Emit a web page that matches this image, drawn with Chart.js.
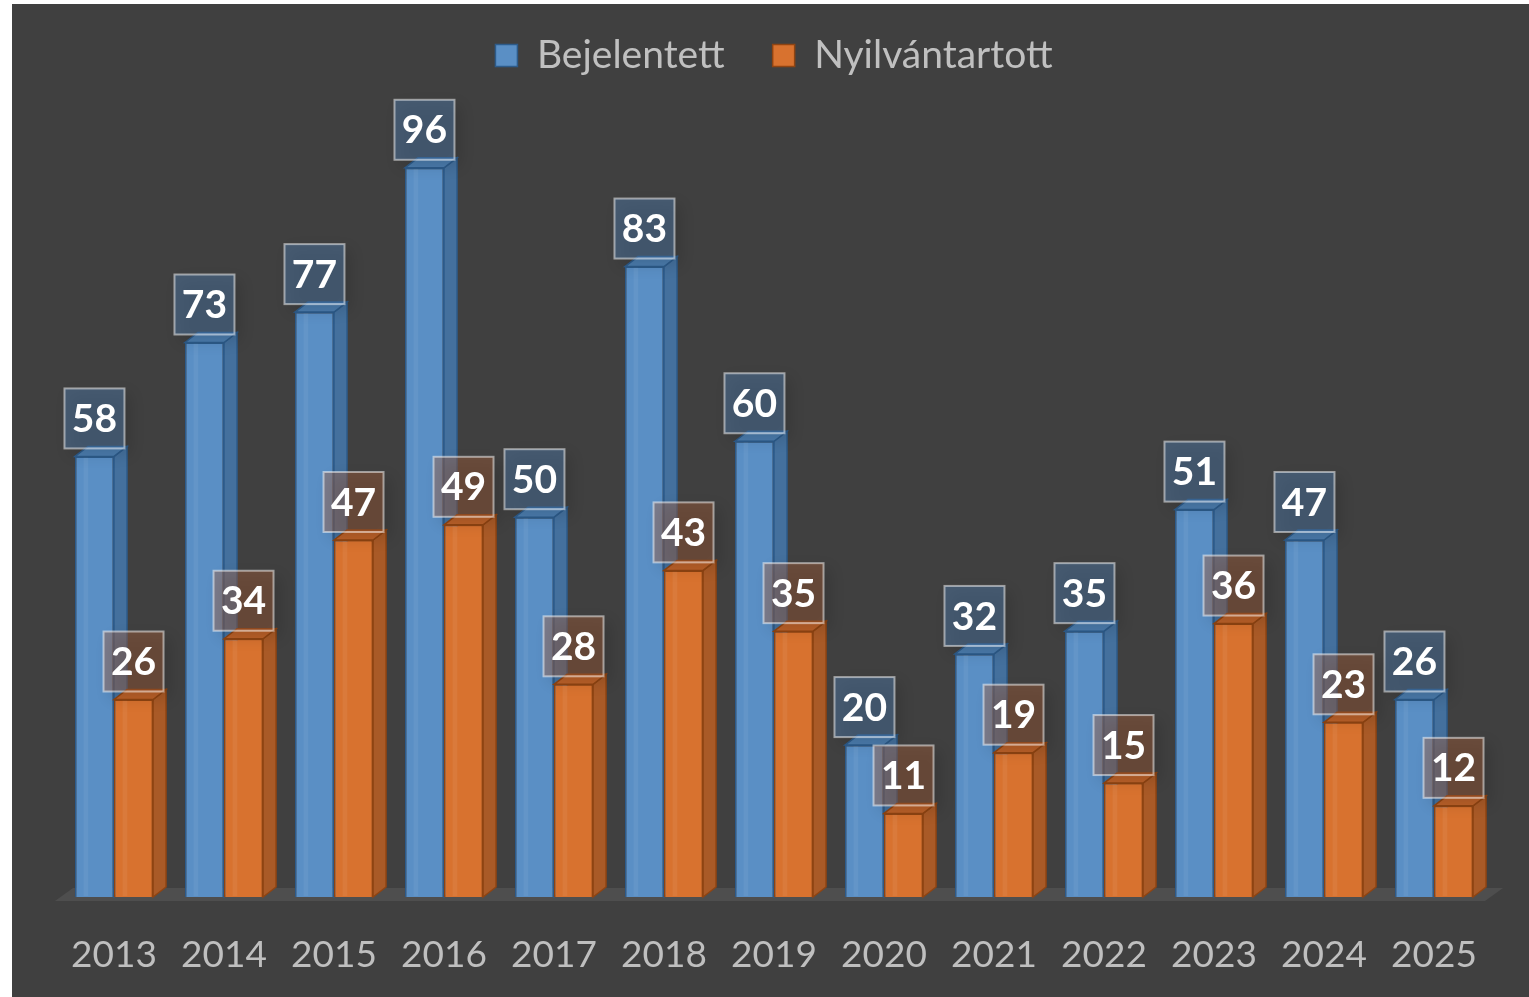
<!DOCTYPE html>
<html>
<head>
<meta charset="utf-8">
<script src="https://cdn.jsdelivr.net/npm/chart.js@4.4.1/dist/chart.umd.min.js"></script>
<style>
  html, body { margin: 0; padding: 0; background: #ffffff; }
  #wrap { position: absolute; left: 12px; top: 4px; width: 1517px; height: 993px; background: #404040; }
</style>
</head>
<body>
<div id="wrap"><canvas id="chart" width="1517" height="993"></canvas></div>
<script>
// Évek és a két adatsor
const evek = ['2013', '2014', '2015', '2016', '2017', '2018', '2019', '2020', '2021', '2022', '2023', '2024', '2025'];
const bejelentett = [58, 73, 77, 96, 50, 83, 60, 20, 32, 35, 51, 47, 26];
const nyilvantartott = [26, 34, 47, 49, 28, 43, 35, 11, 19, 15, 36, 23, 12];

const DX = 13, DY = 10; // 3D mélység

// színek: elülső, oldalsó, felső, keret, címke doboz
const szinek = [
    { front: '#5a8fc5', side: '#44709d', top: '#4b7cad', border: '#2d5b8a', box: 'rgba(79,129,184,0.4)' },
    { front: '#d8722f', side: '#a95a27', top: '#bb6129', border: '#8f4412', box: 'rgba(171,94,54,0.4)' }
];

function csik(ctx, bar) {
    const l = bar.x - bar.width / 2;
    ctx.fillStyle = 'rgba(255,255,255,0.06)';
    ctx.fillRect(l + bar.width * 0.22, bar.y + 1, bar.width * 0.12, bar.base - bar.y - 2);
}

function oldalak(ctx, bar, c) {
    const l = bar.x - bar.width / 2, r = bar.x + bar.width / 2;
    const t = bar.y, bo = bar.base;
    ctx.lineWidth = 1.5;
    ctx.strokeStyle = c.border;
    ctx.fillStyle = c.side;
    ctx.beginPath();
    ctx.moveTo(r, bo);
    ctx.lineTo(r + DX, bo - DY);
    ctx.lineTo(r + DX, t - DY);
    ctx.lineTo(r, t);
    ctx.closePath();
    ctx.fill();
    ctx.stroke();
    ctx.fillStyle = c.top;
    ctx.beginPath();
    ctx.moveTo(l, t);
    ctx.lineTo(l + DX, t - DY);
    ctx.lineTo(r + DX, t - DY);
    ctx.lineTo(r, t);
    ctx.closePath();
    ctx.fill();
    ctx.stroke();
}

// padló + 3D oldalak + értékcímkék
const harom_d = {
    id: 'haromD',
    beforeDatasetsDraw(chart) {
        const { ctx, chartArea } = chart;
        const b = chartArea.bottom;
        ctx.save();
        ctx.fillStyle = '#4e4e4e';
        ctx.beginPath();
        ctx.moveTo(chartArea.left - 4, b + 4);
        ctx.lineTo(chartArea.right - 4, b + 4);
        ctx.lineTo(chartArea.right + 14, b - 9);
        ctx.lineTo(chartArea.left + 14, b - 9);
        ctx.closePath();
        ctx.fill();
        ctx.restore();
    },
    afterDatasetsDraw(chart) {
        const { ctx } = chart;
        const kek = chart.getDatasetMeta(0).data;
        const narancs = chart.getDatasetMeta(1).data;
        ctx.save();
        kek.forEach(bar => { csik(ctx, bar); oldalak(ctx, bar, szinek[0]); });
        narancs.forEach(bar => { bar.draw(ctx); csik(ctx, bar); oldalak(ctx, bar, szinek[1]); });
        ctx.restore();

        ctx.save();
        [0, 1].forEach(di => {
            const meta = chart.getDatasetMeta(di);
            const vals = chart.data.datasets[di].data;
            meta.data.forEach((bar, i) => {
                const w = 60, h = 60;
                const x = bar.x - w / 2, y = bar.y - 8 - h;
                ctx.save();
                ctx.shadowColor = 'rgba(0,0,0,0.35)';
                ctx.shadowBlur = 14;
                ctx.shadowOffsetX = 6;
                ctx.shadowOffsetY = 6;
                ctx.fillStyle = szinek[di].box;
                ctx.fillRect(x, y, w, h);
                ctx.restore();
                ctx.strokeStyle = 'rgba(255,255,255,0.5)';
                ctx.lineWidth = 2;
                ctx.strokeRect(x, y, w, h);
                ctx.fillStyle = '#ffffff';
                ctx.font = 'bold 39px Lato';
                ctx.textAlign = 'center';
                ctx.textBaseline = 'middle';
                ctx.fillText(String(vals[i]), bar.x, y + h / 2 + 1);
            });
        });
        ctx.restore();
    }
};

new Chart(document.getElementById('chart'), {
    type: 'bar',
    data: {
        labels: evek,
        datasets: [
            {
                label: 'Bejelentett',
                data: bejelentett,
                backgroundColor: szinek[0].front,
                borderColor: szinek[0].border,
                borderWidth: 1.5
            },
            {
                label: 'Nyilvántartott',
                data: nyilvantartott,
                backgroundColor: szinek[1].front,
                borderColor: szinek[1].border,
                borderWidth: 1.5
            }
        ]
    },
    options: {
        responsive: false,
        animation: false,
        categoryPercentage: 0.71,
        barPercentage: 1.0,
        layout: { padding: { left: 47, right: 40, top: -16, bottom: 21 } },
        plugins: {
            legend: {
                display: true,
                position: 'top',
                labels: {
                    boxWidth: 22,
                    boxHeight: 22,
                    padding: 48,
                    color: '#c0c0c0',
                    font: { family: 'Lato', size: 39 }
                }
            },
            tooltip: { enabled: false }
        },
        scales: {
            x: {
                grid: { display: false, drawTicks: false },
                border: { display: false },
                ticks: { color: '#bfbfbf', padding: 36, font: { family: 'Lato', size: 37 } },
                afterFit: s => { s.height = 79; }
            },
            y: {
                display: false,
                min: 0,
                max: 106.9,
                afterFit: s => { s.width = 0; }
            }
        }
    },
    plugins: [harom_d]
});
</script>
</body>
</html>
